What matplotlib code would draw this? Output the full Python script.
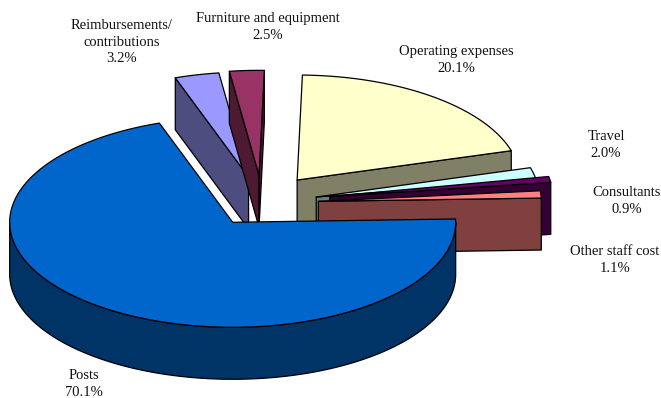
import numpy as np
import matplotlib
matplotlib.use("Agg")
import matplotlib.pyplot as plt
from matplotlib.patches import Polygon

plt.rcParams['font.family'] = ['Liberation Serif', 'DejaVu Serif']

categorias = ["Posts", "Reimbursements/\ncontributions", "Furniture and equipment",
              "Operating expenses", "Travel", "Consultants", "Other staff cost"]
valores = [70.1, 3.2, 2.5, 20.1, 2.0, 0.9, 1.1]
coresTopo = ["#0066CC", "#9999FF", "#993366", "#FFFFCC", "#CCFFFF", "#660066", "#FF8080"]
coresLado = ["#003366", "#4D4D80", "#4D1933", "#808066", "#668080", "#330033", "#804040"]

# centro dos rotulos em pixels
posRotulos = [(84, 384), (122, 42), (268, 27), (456, 60), (606, 145), (627, 201), (615, 260)]

# geometria do pie em pixels
cx, cy = 263, 201.5
rx, ry = 223, 105
prof = 52
expl = [0.24, 0.24, 0.24, 0.24, 0.24, 0.29, 0.24]
# deslocamento fino de cada fatia, em pixels
ajuste = [(0, 0), (-2, 0), (-1, -1), (1.5, -1.5), (1, 1), (3, 0), (2, 1.5)]
# giro fino de cada fatia, em graus
giro = [0, 0, 0, 0, 0, -2.0, 0]
inicio = -1.8


def ponto(ang, c):
    a = np.radians(ang)
    return np.array([c[0] + rx * np.cos(a), c[1] + ry * np.sin(a)])


def arco(a0, a1, c):
    n = max(int(abs(a1 - a0)) + 2, 3)
    angs = np.linspace(a0, a1, n)
    return np.array([ponto(a, c) for a in angs])


def desenharFatia(ax, a0, a1, e, aj, corTopo, corLado):
    meio = np.radians((a0 + a1) / 2)
    c = (cx + e * rx * np.cos(meio) + aj[0], cy + e * ry * np.sin(meio) + aj[1])
    desce = np.array([0, prof])
    estilo = dict(edgecolor="black", linewidth=0.9, joinstyle="round")

    # faces radiais visiveis
    if np.cos(np.radians(a0)) < 0:
        p = ponto(a0, c)
        ax.add_patch(Polygon([c, p, p + desce, np.array(c) + desce], facecolor=corLado, **estilo))
    if np.cos(np.radians(a1)) > 0:
        p = ponto(a1, c)
        ax.add_patch(Polygon([c, p, p + desce, np.array(c) + desce], facecolor=corLado, **estilo))

    # parede externa, so a parte virada para frente
    ini, fim = max(a0, 0), min(a1, 180)
    if fim > ini:
        borda = arco(ini, fim, c)
        ax.add_patch(Polygon(np.vstack([borda, (borda + desce)[::-1]]), facecolor=corLado, **estilo))

    # topo
    ax.add_patch(Polygon(np.vstack([c, arco(a0, a1, c)]), facecolor=corTopo, **estilo))


fig = plt.figure(figsize=(6.61, 3.98), dpi=100)
ax = fig.add_axes([0, 0, 1, 1])
ax.set_xlim(0, 661)
ax.set_ylim(398, 0)
ax.axis("off")

angulos = inicio + np.cumsum([0] + valores) * 360 / sum(valores)

# ordem de pintura: de tras para frente, Posts por ultimo
for i in [1, 2, 3, 4, 5, 6, 0]:
    desenharFatia(ax, angulos[i] + giro[i], angulos[i + 1] + giro[i], expl[i], ajuste[i],
                  coresTopo[i], coresLado[i])

for nome, v, pos in zip(categorias, valores, posRotulos):
    ax.text(pos[0], pos[1], f"{nome}\n{v:.1f}%", ha="center", va="center",
            fontsize=10.5, color="#111111", linespacing=1.35)

fig.savefig("out.png", dpi=100)
